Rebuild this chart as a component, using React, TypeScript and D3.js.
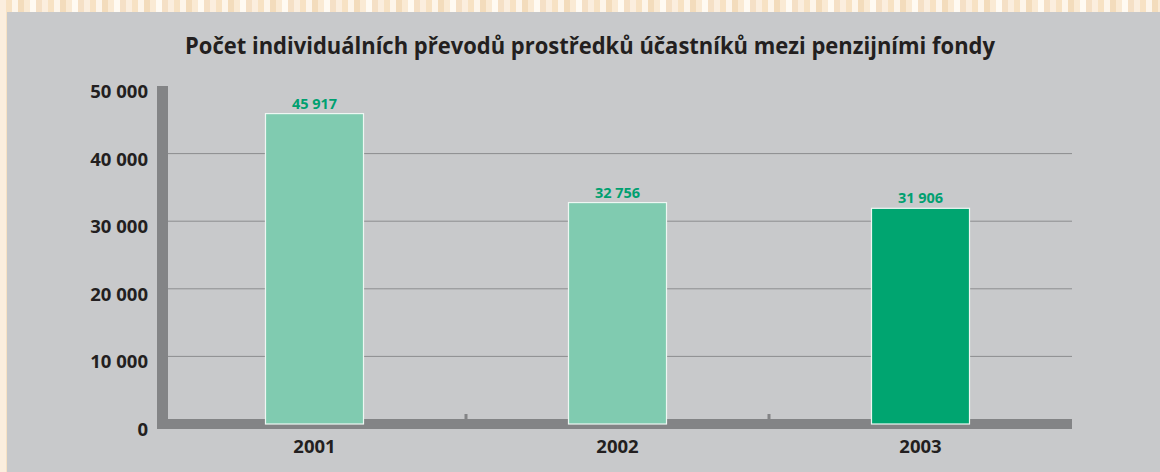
import React from "react";
import * as d3 from "d3";

const title = "Počet individuálních převodů prostředků účastníků mezi penzijními fondy";
const years = ["2001", "2002", "2003"];
const transfers = [45917, 32756, 31906];
const valueLabels = ["45 917", "32 756", "31 906"];
const yTicks = [0, 10000, 20000, 30000, 40000, 50000];
const yTickLabels = ["0", "10 000", "20 000", "30 000", "40 000", "50 000"];
const barColors = ["#80cbb0", "#80cbb0", "#00a570"];

const W = 1160;
const H = 472;
const stripeColors = ["#fbeede", "#f7e2c4", "#fdf5ea", "#f3dcbc", "#faead4", "#fffaf2", "#f5e0c6"];

export default function App() {
  const x = d3.scaleBand<string>().domain(years).range([163, 1072]).paddingInner(0).paddingOuter(0);
  const y = d3.scaleLinear().domain([0, 50000]).range([424, 86]);
  const bw = 98;
  const font = "'Open Sans', 'Noto Sans', sans-serif";
  const stripes = d3.range(0, W, 6);
  return (
    <div style={{ position: "absolute", left: 0, top: 0, width: W, height: H }}>
      <svg width={W} height={H} style={{ display: "block" }}>
        <rect x={0} y={0} width={W} height={H} fill="#f8e6cc" />
        {stripes.map((s, i) => (
          <rect key={i} x={s} y={0} width={6} height={H} fill={stripeColors[i % stripeColors.length]} />
        ))}
        <rect x={7} y={12} width={W - 7} height={H - 12} fill="#c8c9cb" />
        <text x={590} y={54} textAnchor="middle" fontFamily={font} fontWeight={700} fontSize={23}
          fill="#231f20" textLength={810} lengthAdjust="spacingAndGlyphs">{title}</text>
        {yTicks.slice(1, 5).map((t) => (
          <line key={t} x1={168} x2={1072} y1={y(t)} y2={y(t)} stroke="#8c8d8f" strokeWidth={1} />
        ))}
        {yTicks.map((t, i) => (
          <text key={t} x={148} y={y(t) + 12} textAnchor="end" fontFamily={font} fontWeight={700}
            fontSize={18.5} fill="#231f20">{yTickLabels[i]}</text>
        ))}
        <rect x={157} y={86} width={11} height={343} fill="#838486" />
        <rect x={157} y={419} width={915} height={10} fill="#838486" />
        {[x("2002")!, x("2003")!].map((b, i) => (
          <rect key={i} x={b - 1.5} y={414} width={3} height={5} fill="#838486" />
        ))}
        {years.map((yr, i) => {
          const cx = x(yr)! + x.bandwidth() / 2;
          return (
            <g key={yr}>
              <rect x={cx - bw / 2} y={y(transfers[i])} width={bw} height={y(0) - y(transfers[i])}
                fill={barColors[i]} stroke="#eef7f3" strokeWidth={1.2} />
              <text x={cx} y={y(transfers[i]) - 5} textAnchor="middle" fontFamily={font} fontWeight={700}
                fontSize={14.5} fill="#00a070">{valueLabels[i]}</text>
              <text x={cx} y={453} textAnchor="middle" fontFamily={font} fontWeight={700}
                fontSize={18.5} fill="#231f20">{yr}</text>
            </g>
          );
        })}
      </svg>
    </div>
  );
}
